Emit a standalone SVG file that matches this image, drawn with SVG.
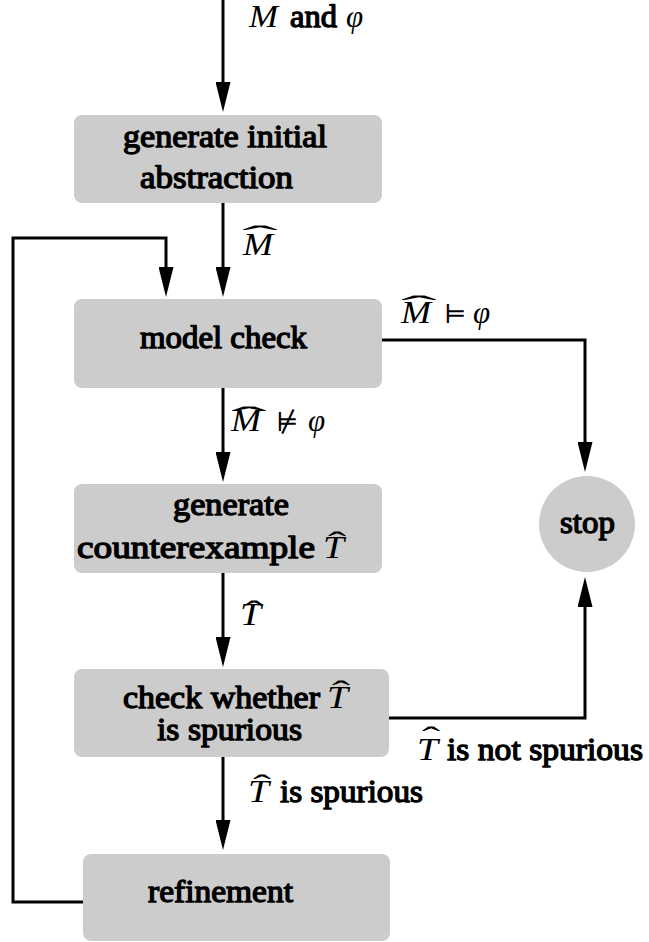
<svg xmlns="http://www.w3.org/2000/svg" width="649" height="942" viewBox="0 0 649 942">
  <style>
    .box { fill: #cccccc; }
    /* heavy serif labels: regular face thickened with a matching stroke */
    .lbl { font-family: 'Liberation Serif', 'Times New Roman', serif; font-size: 31px; fill: #000; stroke: #000; stroke-width: 1.3px; stroke-linejoin: round; }
    .mi { font-family: 'Liberation Serif', 'Times New Roman', serif; font-size: 31px; font-style: italic; fill: #000; }
    .rel { font-family: 'DejaVu Serif', serif; font-size: 26px; fill: #000; }
    .hat { font-family: 'Liberation Serif', 'Times New Roman', serif; font-size: 30px; fill: #000; }
    .wire { fill: none; stroke: #000; stroke-width: 3; }
  </style>
  <defs>
    <marker id="arrow" markerUnits="userSpaceOnUse" markerWidth="30" markerHeight="15" refX="0" refY="7.5" orient="auto">
      <path d="M0,0 L30,7.5 L0,15 Z" fill="#000"/>
    </marker>
  </defs>

  <!-- connectors -->
  <g id="connectors">
    <path class="wire" d="M223,0 V82" marker-end="url(#arrow)"/>
    <path class="wire" d="M223,203 V267" marker-end="url(#arrow)"/>
    <path class="wire" d="M83,902 H13 V238 H166 V267" marker-end="url(#arrow)"/>
    <path class="wire" d="M223,388 V452" marker-end="url(#arrow)"/>
    <path class="wire" d="M223,573 V637" marker-end="url(#arrow)"/>
    <path class="wire" d="M223,757 V820" marker-end="url(#arrow)"/>
    <path class="wire" d="M382,340 H585 V442" marker-end="url(#arrow)"/>
    <path class="wire" d="M389,718 H585 V607" marker-end="url(#arrow)"/>
  </g>

  <!-- edge labels -->
  <g id="edge-labels">
    <text class="mi" x="249" y="27" textLength="29" lengthAdjust="spacingAndGlyphs">M</text>
    <text class="lbl" x="290" y="27" textLength="47" lengthAdjust="spacingAndGlyphs">and</text>
    <text class="mi" x="346" y="27">φ</text>

    <text class="mi" x="243" y="255" textLength="30" lengthAdjust="spacingAndGlyphs">M</text>
    <text class="hat" text-anchor="middle" transform="translate(260,246) scale(3.6,1)">ˆ</text>

    <text class="mi" x="401" y="323" textLength="30" lengthAdjust="spacingAndGlyphs">M</text>
    <text class="hat" text-anchor="middle" transform="translate(419,316) scale(3.6,1)">ˆ</text>
    <text class="rel" x="444" y="323">⊨</text>
    <text class="mi" x="473" y="323">φ</text>

    <text class="mi" x="231" y="431" textLength="30" lengthAdjust="spacingAndGlyphs">M</text>
    <text class="hat" text-anchor="middle" transform="translate(249,427) scale(3.6,1)">ˆ</text>
    <text class="rel" x="276" y="431">⊭</text>
    <text class="mi" x="308" y="431">φ</text>

    <text class="mi" x="240" y="625" textLength="21" lengthAdjust="spacingAndGlyphs">T</text>
    <text class="hat" text-anchor="middle" transform="translate(254,621) scale(1.8,1)">ˆ</text>

    <text class="mi" x="248" y="802" textLength="21" lengthAdjust="spacingAndGlyphs">T</text>
    <text class="hat" text-anchor="middle" transform="translate(262,795) scale(1.8,1)">ˆ</text>
    <text class="lbl" x="280" y="802" textLength="143" lengthAdjust="spacingAndGlyphs">is spurious</text>

    <text class="mi" x="417" y="760" textLength="21" lengthAdjust="spacingAndGlyphs">T</text>
    <text class="hat" text-anchor="middle" transform="translate(431,747) scale(1.8,1)">ˆ</text>
    <text class="lbl" x="447" y="760" textLength="196" lengthAdjust="spacingAndGlyphs">is not spurious</text>
  </g>

  <!-- nodes -->
  <g id="node-init">
    <rect class="box" x="74" y="115" width="308" height="88" rx="8"/>
    <text class="lbl" x="123" y="147" textLength="204" lengthAdjust="spacingAndGlyphs">generate initial</text>
    <text class="lbl" x="140" y="188" textLength="153" lengthAdjust="spacingAndGlyphs">abstraction</text>
  </g>

  <g id="node-modelcheck">
    <rect class="box" x="74" y="299" width="308" height="89" rx="8"/>
    <text class="lbl" x="140" y="348" textLength="167" lengthAdjust="spacingAndGlyphs">model check</text>
  </g>

  <g id="node-counterexample">
    <rect class="box" x="74" y="484" width="308" height="89" rx="8"/>
    <text class="lbl" x="173" y="515" textLength="116" lengthAdjust="spacingAndGlyphs">generate</text>
    <text class="lbl" x="77" y="558" textLength="238" lengthAdjust="spacingAndGlyphs">counterexample</text>
    <text class="mi" x="323" y="558" textLength="21" lengthAdjust="spacingAndGlyphs">T</text>
    <text class="hat" text-anchor="middle" transform="translate(337,552) scale(1.8,1)">ˆ</text>
  </g>

  <g id="node-spurious">
    <rect class="box" x="74" y="669" width="315" height="88" rx="8"/>
    <text class="lbl" x="123" y="708" textLength="197" lengthAdjust="spacingAndGlyphs">check whether</text>
    <text class="mi" x="327" y="708" textLength="21" lengthAdjust="spacingAndGlyphs">T</text>
    <text class="hat" text-anchor="middle" transform="translate(341,701) scale(1.8,1)">ˆ</text>
    <text class="lbl" x="157" y="740" textLength="145" lengthAdjust="spacingAndGlyphs">is spurious</text>
  </g>

  <g id="node-refinement">
    <rect class="box" x="83" y="854" width="307" height="87" rx="8"/>
    <text class="lbl" x="148" y="902" textLength="145" lengthAdjust="spacingAndGlyphs">refinement</text>
  </g>

  <g id="node-stop">
    <circle class="box" cx="587" cy="524" r="48"/>
    <text class="lbl" x="560" y="533" textLength="55" lengthAdjust="spacingAndGlyphs">stop</text>
  </g>
</svg>
